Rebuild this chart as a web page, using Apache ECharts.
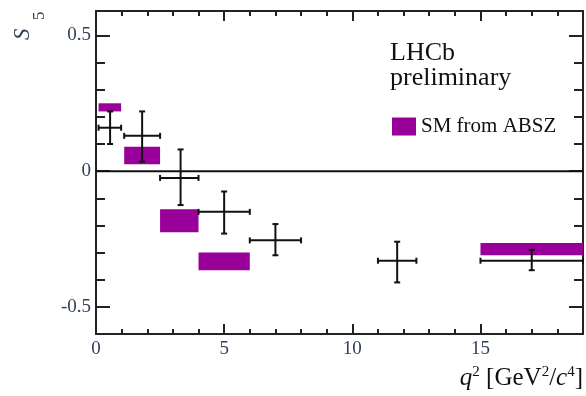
<!DOCTYPE html>
<html>
<head>
<meta charset="utf-8">
<script src="https://cdn.jsdelivr.net/npm/echarts@6/dist/echarts.min.js"></script>
<style>
  html, body { margin: 0; padding: 0; background: #fff; }
  #chart { width: 586px; height: 396px; }
</style>
</head>
<body>
<div id="chart"></div>
<script>
// LHCb S5 measurement, bins in q2
var binLo = [0.1, 1.1, 2.5, 4.0, 6.0, 11.0, 15.0]
var binHi = [0.98, 2.5, 4.0, 6.0, 8.0, 12.5, 19.0]
var q2Centre = [0.55, 1.8, 3.3, 5.0, 7.0, 11.75, 17.0]
var s5 = [0.16, 0.13, -0.025, -0.15, -0.255, -0.33, -0.33]
var s5Lo = [0.10, 0.035, -0.125, -0.23, -0.31, -0.41, -0.365]
var s5Hi = [0.22, 0.22, 0.08, -0.075, -0.195, -0.26, -0.29]

// SM prediction (ABSZ) boxes
var smBinLo = [0.1, 1.1, 2.5, 4.0, 15.0]
var smBinHi = [0.98, 2.5, 4.0, 6.0, 19.0]
var smLo = [0.22, 0.025, -0.225, -0.365, -0.31]
var smHi = [0.25, 0.09, -0.14, -0.30, -0.265]

// ticks
var xMajor = [0, 5, 10, 15]
var xMinor = [1, 2, 3, 4, 6, 7, 8, 9, 11, 12, 13, 14, 16, 17, 18]
var yMajor = [-0.5, 0, 0.5]
var yMinor = [-0.4, -0.3, -0.2, -0.1, 0.1, 0.2, 0.3, 0.4]
var zeroLine = [[0, 0], [19, 0]]

var serif = 'Liberation Serif'
var labelColor = '#34405a'

function xAxisDef (pos, ticks, len, labels, line) {
  return {
    type: 'value', position: pos, min: 0, max: 19,
    splitLine: { show: false },
    axisLine: { show: line, onZero: false, lineStyle: { color: '#222', width: 2 } },
    axisTick: { show: true, inside: true, length: len, customValues: ticks, lineStyle: { color: '#222', width: 2 } },
    axisLabel: labels ? { customValues: labels, margin: 6, fontFamily: serif, fontSize: 19, color: labelColor } : { show: false }
  }
}
function yAxisDef (pos, ticks, len, labels, line) {
  return {
    type: 'value', position: pos, min: -0.6, max: 0.59,
    splitLine: { show: false },
    axisLine: { show: line, onZero: false, lineStyle: { color: '#222', width: 2 } },
    axisTick: { show: true, inside: true, length: len, customValues: ticks, lineStyle: { color: '#222', width: 2 } },
    axisLabel: labels ? { customValues: labels, margin: 5, fontFamily: serif, fontSize: 19, color: labelColor,
      formatter: function (v) { return v === 0 ? '0' : String(v) } } : { show: false }
  }
}

var chart = echarts.init(document.getElementById('chart'))
chart.setOption({
  animation: false,
  grid: { left: 96, right: 3, top: 11, bottom: 62 },
  title: [{
    text: 'LHCb\npreliminary',
    left: 390, top: 41, padding: 0,
    textStyle: { fontFamily: serif, fontSize: 26, fontWeight: 'normal', lineHeight: 25, color: '#111' }
  }, {
    text: '{i|q}{s|2} [GeV{s|2}/{i|c}{s|4}]',
    right: 3, top: 365, padding: 0,
    textStyle: {
      fontFamily: serif, fontSize: 25, fontWeight: 'normal', color: '#111',
      rich: {
        i: { fontFamily: serif, fontSize: 25, fontStyle: 'italic', color: '#111', lineHeight: 26 },
        s: { fontFamily: serif, fontSize: 15, color: '#111', verticalAlign: 'top', lineHeight: 26 }
      }
    }
  }],
  legend: {
    data: ['SM from ABSZ'],
    left: 392, top: 116, padding: 0,
    itemWidth: 24, itemHeight: 18, itemGap: 5,
    icon: 'rect',
    textStyle: { fontFamily: serif, fontSize: 21, color: '#111' }
  },
  graphic: [{
    type: 'text', x: 23, y: 40, rotation: Math.PI / 2,
    style: { text: 'S', font: 'italic 23px "Liberation Serif"', fill: labelColor, align: 'left', verticalAlign: 'middle' }
  }, {
    type: 'text', x: 40, y: 20, rotation: Math.PI / 2,
    style: { text: '5', font: '17px "Liberation Serif"', fill: labelColor, align: 'left', verticalAlign: 'middle' }
  }],
  xAxis: [
    xAxisDef('bottom', xMajor, 10, xMajor, true),
    xAxisDef('bottom', xMinor, 5, null, false),
    xAxisDef('top', xMajor, 10, null, true),
    xAxisDef('top', xMinor, 5, null, false)
  ],
  yAxis: [
    yAxisDef('left', yMajor, 14, yMajor, true),
    yAxisDef('left', yMinor, 9, null, false),
    yAxisDef('right', yMajor, 14, null, true),
    yAxisDef('right', yMinor, 9, null, false)
  ],
  series: [{
    name: 'SM from ABSZ',
    type: 'custom',
    color: '#990099',
    data: smBinLo.map(function (v, i) { return [v, smBinHi[i], smLo[i], smHi[i]] }),
    renderItem: function (params, api) {
      var p1 = api.coord([api.value(0), api.value(3)])
      var p2 = api.coord([api.value(1), api.value(2)])
      return {
        type: 'rect',
        shape: { x: p1[0], y: p1[1], width: p2[0] - p1[0], height: p2[1] - p1[1] },
        style: { fill: '#990099' }
      }
    }
  }, {
    name: 'zero',
    type: 'line',
    data: zeroLine,
    symbol: 'none',
    lineStyle: { color: '#111', width: 2 },
    silent: true
  }, {
    name: 'LHCb data',
    type: 'custom',
    data: q2Centre.map(function (v, i) { return [v, s5[i], binLo[i], binHi[i], s5Lo[i], s5Hi[i]] }),
    renderItem: function (params, api) {
      var c = api.coord([api.value(0), api.value(1)])
      var l = api.coord([api.value(2), api.value(1)])
      var r = api.coord([api.value(3), api.value(1)])
      var b = api.coord([api.value(0), api.value(4)])
      var t = api.coord([api.value(0), api.value(5)])
      var st = { stroke: '#111', lineWidth: 2 }
      var cap = 3
      return {
        type: 'group',
        children: [
          { type: 'line', shape: { x1: l[0], y1: c[1], x2: r[0], y2: c[1] }, style: st },
          { type: 'line', shape: { x1: c[0], y1: t[1], x2: c[0], y2: b[1] }, style: st },
          { type: 'line', shape: { x1: l[0], y1: c[1] - cap, x2: l[0], y2: c[1] + cap }, style: st },
          { type: 'line', shape: { x1: r[0], y1: c[1] - cap, x2: r[0], y2: c[1] + cap }, style: st },
          { type: 'line', shape: { x1: c[0] - cap, y1: t[1], x2: c[0] + cap, y2: t[1] }, style: st },
          { type: 'line', shape: { x1: c[0] - cap, y1: b[1], x2: c[0] + cap, y2: b[1] }, style: st }
        ]
      }
    }
  }]
})
</script>
</body>
</html>
